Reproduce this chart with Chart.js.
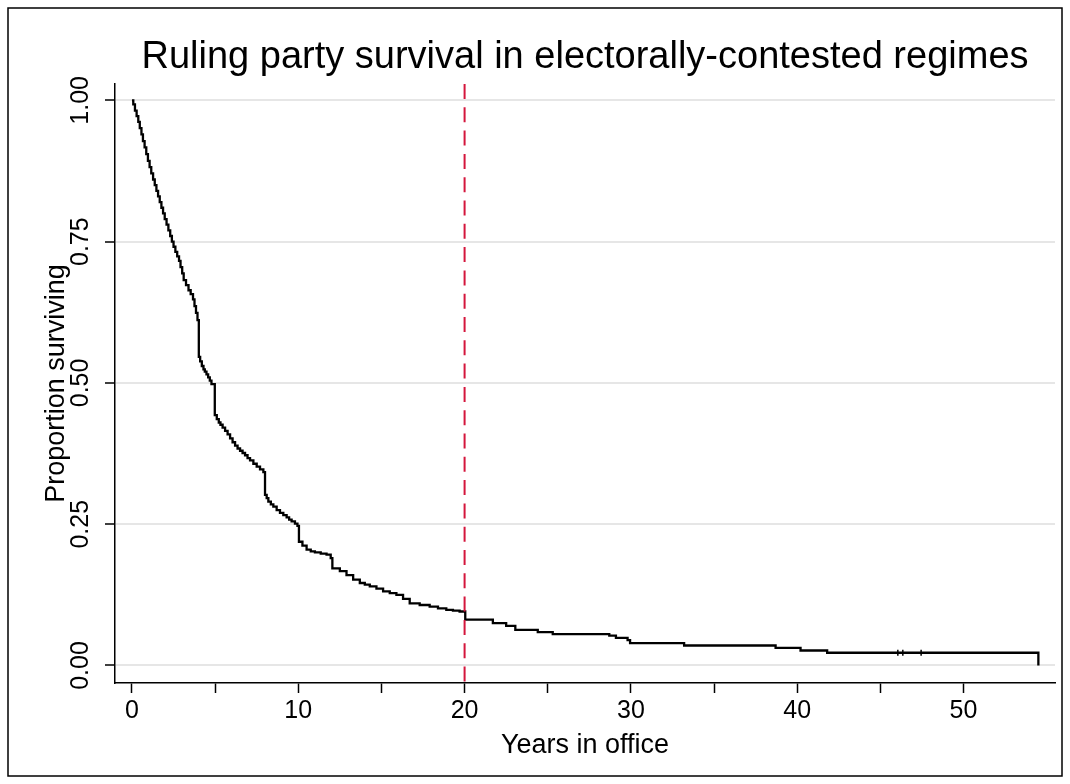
<!DOCTYPE html>
<html>
<head>
<meta charset="utf-8">
<script src="https://cdn.jsdelivr.net/npm/chart.js@4.4.1/dist/chart.umd.min.js"></script>
<style>
html, body { margin: 0; padding: 0; background: #fff; }
#wrap { width: 1070px; height: 784px; position: relative; }
</style>
</head>
<body>
<div id="wrap"><canvas id="survivalchart"></canvas></div>
<script>
// Kaplan-Meier estimate: survival after each drop
var years = [0.00, 0.08, 0.18, 0.28, 0.38, 0.47, 0.57, 0.66, 0.76, 0.86,
  0.96, 1.06, 1.16, 1.27, 1.37, 1.47, 1.57, 1.67, 1.77, 1.87,
  1.97, 2.08, 2.19, 2.30, 2.40, 2.50, 2.61, 2.72, 2.83, 2.92,
  3.02, 3.11, 3.25, 3.40, 3.53, 3.67, 3.76, 3.85, 3.94, 4.02,
  4.10, 4.20, 4.30, 4.38, 4.48, 4.58, 4.68, 4.78, 4.98, 5.10,
  5.22, 5.32, 5.45, 5.60, 5.75, 5.90, 6.05, 6.20, 6.35, 6.50,
  6.65, 6.80, 6.95, 7.10, 7.30, 7.50, 7.70, 7.90, 8.00, 8.10,
  8.20, 8.35, 8.50, 8.70, 8.90, 9.10, 9.30, 9.45, 9.60, 9.80,
  9.95, 10.04, 10.25, 10.50, 10.75, 11.00, 11.35, 11.70, 11.95, 12.05,
  12.50, 12.90, 13.30, 13.70, 14.00, 14.30, 14.70, 15.10, 15.50, 15.90,
  16.30, 16.70, 17.30, 17.90, 18.40, 18.90, 19.30, 19.70, 20.04, 21.70,
  22.50, 23.05, 24.40, 25.30, 28.70, 29.10, 29.80, 29.95, 33.20, 38.70,
  40.20, 41.80, 54.50];
var surviving = [1.000, 0.993, 0.982, 0.972, 0.962, 0.951, 0.940, 0.928, 0.917, 0.905,
  0.893, 0.882, 0.871, 0.860, 0.850, 0.840, 0.830, 0.820, 0.810, 0.800,
  0.790, 0.780, 0.770, 0.760, 0.750, 0.741, 0.732, 0.724, 0.716, 0.705,
  0.694, 0.682, 0.673, 0.664, 0.657, 0.648, 0.636, 0.624, 0.611, 0.546,
  0.538, 0.530, 0.524, 0.520, 0.515, 0.510, 0.504, 0.498, 0.443, 0.436,
  0.430, 0.426, 0.421, 0.415, 0.409, 0.402, 0.395, 0.389, 0.384, 0.380,
  0.376, 0.372, 0.367, 0.363, 0.357, 0.352, 0.347, 0.342, 0.302, 0.296,
  0.290, 0.285, 0.281, 0.275, 0.270, 0.266, 0.262, 0.258, 0.255, 0.251,
  0.247, 0.219, 0.212, 0.205, 0.202, 0.200, 0.198, 0.196, 0.190, 0.172,
  0.167, 0.160, 0.152, 0.146, 0.143, 0.140, 0.136, 0.131, 0.128, 0.125,
  0.118, 0.110, 0.107, 0.104, 0.101, 0.0985, 0.097, 0.0955, 0.081, 0.075,
  0.070, 0.063, 0.059, 0.0555, 0.053, 0.049, 0.045, 0.0396, 0.0354, 0.031,
  0.0265, 0.0225, 0.000];

// censored observations (little tick marks on the tail)
var censorYears = [46.05, 46.35, 47.45];
var censorLevel = [0.0225, 0.0225, 0.0225];

// reference line at 20 years
var refYears = [20, 20];
var refLevel = [1.029, -0.031];

var xTicks = [0, 5, 10, 15, 20, 25, 30, 35, 40, 45, 50];
var yTicks = [0, 0.25, 0.5, 0.75, 1];

function pairs(xs, ys) {
  return xs.map(function(x, i) { return { x: x, y: ys[i] }; });
}

var fontFamily = "'Liberation Sans', Arial, Helvetica, sans-serif";

var framePlugin = {
  id: 'frame',
  beforeDraw: function(chart) {
    var ctx = chart.ctx;
    ctx.save();
    ctx.fillStyle = '#fff';
    ctx.fillRect(0, 0, chart.width, chart.height);
    ctx.restore();
  },
  afterDraw: function(chart) {
    var ctx = chart.ctx;
    ctx.save();
    ctx.strokeStyle = '#000';
    ctx.lineWidth = 1.5;
    ctx.strokeRect(8, 8, 1054, 768);
    ctx.restore();
  }
};

var ctx = document.getElementById('survivalchart').getContext('2d');
var survivalchart = new Chart(ctx, {
  type: 'line',
  data: {
    datasets: [
      {
        label: 'Reference',
        data: pairs(refYears, refLevel),
        borderColor: '#d4163c',
        borderWidth: 2,
        borderDash: [15, 8.3],
        pointRadius: 0,
        order: 0
      },
      {
        label: 'Censored',
        data: pairs(censorYears, censorLevel),
        showLine: false,
        pointStyle: 'line',
        rotation: 90,
        pointRadius: 3,
        borderColor: '#000',
        borderWidth: 1.5,
        order: 1
      },
      {
        label: 'Survival',
        data: pairs(years, surviving),
        stepped: true,
        borderColor: '#000',
        borderWidth: 2.3,
        pointRadius: 0,
        fill: false,
        order: 2
      }
    ]
  },
  options: {
    responsive: true,
    maintainAspectRatio: false,
    animation: false,
    layout: { padding: { left: 0, right: 15, top: 0, bottom: 0 } },
    plugins: {
      legend: { display: false },
      tooltip: { enabled: false },
      title: {
        display: true,
        text: 'Ruling party survival in electorally-contested regimes',
        fullSize: false,
        color: '#000',
        font: { family: fontFamily, size: 38, weight: 'normal' },
        padding: { top: 34.5, bottom: 3.9 }
      }
    },
    scales: {
      x: {
        type: 'linear',
        min: -1.02,
        max: 55.5,
        afterBuildTicks: function(scale) {
          scale.ticks = xTicks.map(function(v) { return { value: v }; });
        },
        afterFit: function(scale) { scale.height = 101; },
        border: { display: true, color: '#000', width: 1.5 },
        grid: { drawOnChartArea: false, drawTicks: true, tickLength: 10, tickColor: '#000', tickWidth: 1.5 },
        ticks: {
          autoSkip: false,
          maxRotation: 0,
          padding: 3,
          color: '#000',
          font: { family: fontFamily, size: 25 },
          callback: function(v) { return v % 10 === 0 ? String(v) : ''; }
        },
        title: {
          display: true,
          text: 'Years in office',
          color: '#000',
          font: { family: fontFamily, size: 27 },
          padding: { top: 0, bottom: 22 }
        }
      },
      y: {
        type: 'linear',
        min: -0.031,
        max: 1.029,
        afterBuildTicks: function(scale) {
          scale.ticks = yTicks.map(function(v) { return { value: v }; });
        },
        afterFit: function(scale) { scale.width = 115; },
        border: { display: true, color: '#000', width: 1.5 },
        grid: { color: '#e6e6e6', lineWidth: 2, drawTicks: true, tickLength: 10, tickColor: '#000', tickWidth: 1.5 },
        ticks: {
          minRotation: 90,
          maxRotation: 90,
          crossAlign: 'center',
          padding: 0,
          color: '#000',
          font: { family: fontFamily, size: 25 },
          callback: function(v) { return Number(v).toFixed(2); }
        },
        title: {
          display: true,
          text: 'Proportion surviving',
          color: '#000',
          font: { family: fontFamily, size: 27 },
          padding: { top: 40, bottom: 0 }
        }
      }
    }
  },
  plugins: [framePlugin]
});
</script>
</body>
</html>
